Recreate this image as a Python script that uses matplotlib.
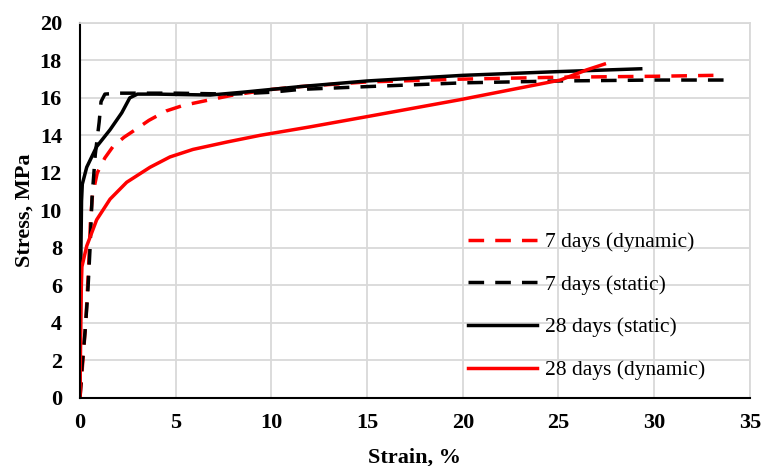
import matplotlib.pyplot as plt

plt.rcParams['font.family'] = 'Liberation Serif'

# 7 days (dynamic)
d7_strain = [0, 0.15, 0.3, 0.45, 0.55, 0.65, 0.9, 1.3, 1.72, 2.3, 2.96, 3.6, 4.5, 5.4, 6.8, 8.0, 10, 11.5, 15, 20, 25, 30, 33.1]
d7_stress = [0, 2.0, 4.0, 7.0, 9.5, 10.8, 12.0, 12.8, 13.4, 13.9, 14.35, 14.8, 15.3, 15.6, 15.9, 16.15, 16.45, 16.6, 16.85, 17.0, 17.1, 17.15, 17.2]

# 7 days (static)
s7_strain = [0, 0.1, 0.26, 0.4, 0.52, 0.63, 0.8, 1.0, 1.1, 1.3, 2, 5, 8, 10, 11.5, 15, 20, 25, 30, 34.2]
s7_stress = [0, 1.6, 3.5, 5.5, 7.9, 10.7, 13.0, 14.7, 15.8, 16.2, 16.25, 16.25, 16.2, 16.3, 16.45, 16.6, 16.8, 16.9, 16.95, 16.95]

# 28 days (static)
s28_strain = [0, 0.02, 0.05, 0.08, 0.12, 0.35, 0.87, 1.57, 2.18, 2.6, 3.0, 4.0, 6.8, 8.5, 10, 11.5, 15, 20, 25, 29.3]
s28_stress = [0, 4.0, 8.0, 10.5, 11.4, 12.3, 13.4, 14.3, 15.2, 16.0, 16.2, 16.2, 16.15, 16.3, 16.45, 16.6, 16.9, 17.2, 17.4, 17.55]

# 28 days (dynamic)
d28_strain = [0, 0.02, 0.04, 0.07, 0.1, 0.35, 0.87, 1.57, 2.44, 3.66, 4.7, 5.9, 7.7, 9.4, 12.0, 15, 19.85, 25.1, 26.5, 27.4]
d28_stress = [0, 2.0, 4.0, 6.0, 7.0, 8.1, 9.5, 10.6, 11.5, 12.3, 12.85, 13.25, 13.65, 14.0, 14.45, 15.0, 15.9, 16.95, 17.5, 17.8]

fig = plt.figure(figsize=(7.62, 4.66), dpi=100)
ax = fig.add_axes([0.105, 0.146, 0.879, 0.805])

ax.plot(d7_strain, d7_stress, color='red', lw=2.5, dashes=(4.5, 3.2), label='7 days (dynamic)')
ax.plot(s7_strain, s7_stress, color='black', lw=2.5, dashes=(4.5, 3.2), label='7 days (static)')
ax.plot(s28_strain, s28_stress, color='black', lw=2.5, label='28 days (static)')
ax.plot(d28_strain, d28_stress, color='red', lw=2.5, label='28 days (dynamic)')

ax.set_xlim(0, 35)
ax.set_ylim(0, 20)
ax.set_xticks(range(0, 36, 5))
ax.set_yticks(range(0, 21, 2))
ax.grid(True, color='#d9d9d9', lw=1.3)
ax.set_axisbelow(True)
for side in ['top', 'right']:
    ax.spines[side].set_color('#d9d9d9')
    ax.spines[side].set_linewidth(1.3)
ax.spines['left'].set_linewidth(1.5)
ax.spines['bottom'].set_linewidth(1.5)
ax.tick_params(length=0, labelsize=16)
ax.tick_params(axis='x', pad=11)
ax.tick_params(axis='y', pad=13)
for lbl in ax.get_xticklabels() + ax.get_yticklabels():
    lbl.set_fontweight('bold')

ax.set_xlabel('Strain, %', fontsize=16, fontweight='bold', labelpad=10)
ax.set_ylabel('Stress, MPa', fontsize=16, fontweight='bold', labelpad=4)

ax.legend(loc='lower right', bbox_to_anchor=(0.963, -0.004), frameon=False, fontsize=15.5,
          handlelength=3.2, handletextpad=0.4, labelspacing=1.05)

plt.savefig('out.png', dpi=100)
